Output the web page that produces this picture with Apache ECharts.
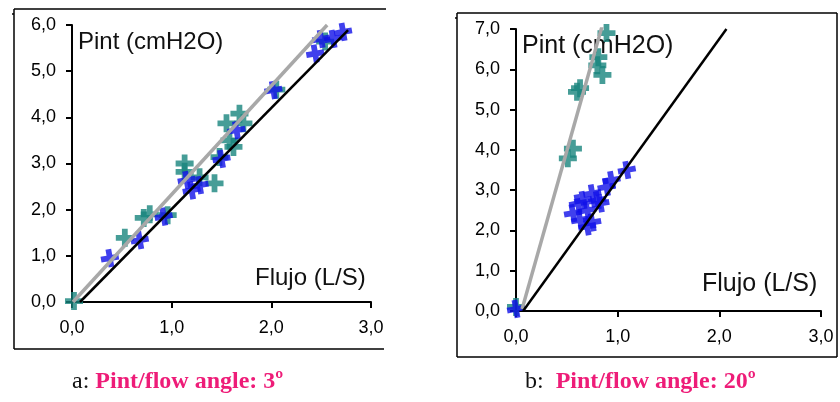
<!DOCTYPE html>
<html><head><meta charset="utf-8">
<script src="https://cdn.jsdelivr.net/npm/echarts@6/dist/echarts.min.js"></script>
<style>html,body{margin:0;padding:0;background:#fff}#c{width:840px;height:402px}</style>
</head><body><div id="c"></div>
<script>
// Panel a data (Flujo L/S, Pint cmH2O)
var tealA = [[0.02,0.02],[0.53,1.39],[0.72,1.82],[0.78,1.9],[0.96,1.88],[1.13,3.0],[1.13,2.82],[1.28,2.7],[1.43,2.57],[1.48,3.14],[1.58,3.5],[1.62,3.36],[1.55,3.87],[1.68,4.08],[1.72,3.87],[2.05,4.6],[2.54,5.64]];
var blueA = [[0.38,0.95],[0.68,1.34],[0.92,1.85],[1.15,2.64],[1.2,2.42],[1.28,2.53],[1.5,3.1],[1.65,3.72],[2.02,4.59],[2.44,5.38],[2.5,5.7],[2.62,5.7],[2.72,5.85]];
var grayLineA = [[0.01,0],[2.56,6.0]];
var blackLineA = [[0.08,0],[2.77,5.89]];
// Panel b data
var tealB = [[0.0,0.1],[0.51,3.79],[0.56,4.03],[0.6,5.44],[0.63,5.53],[0.8,6.1],[0.81,6.3],[0.85,5.86],[0.89,6.9]];
var blueB = [[0.0,0.05],[0.56,2.43],[0.61,2.67],[0.63,2.26],[0.66,2.75],[0.7,2.5],[0.7,2.1],[0.75,2.2],[0.75,2.92],[0.8,2.75],[0.83,2.67],[0.89,3.08],[0.94,3.25],[1.09,3.5]];
var grayLineB = [[0.06,0.05],[0.85,7.1]];
var blackLineB = [[0.07,0],[2.07,7.0]];
var xTicks = [0,1,2,3];
var captionA = ['a: ', 'Pint/flow angle: 3º'];
var captionB = ['b:  ', 'Pint/flow angle: 20º'];
var yTitle = 'Pint (cmH2O)', xTitle = 'Flujo (L/S)';

var plus = 'path://M3.4,0h3.2v3.4h3.4v3.2h-3.4v3.4h-3.2v-3.4h-3.4v-3.2h3.4z';
var fmt = function(v){ return v.toFixed(1).replace('.', ','); };
var TEAL = '#18857d', BLUE = '#1010e8', GRAY = '#a8a8a8';
function xAx(i){ return {gridIndex:i,type:'value',min:0,max:3,interval:1,
  axisLine:{lineStyle:{color:'#000',width:2}},axisTick:{length:6,lineStyle:{color:'#000',width:2}},
  splitLine:{show:false},axisLabel:{formatter:fmt,color:'#000',fontSize:18,fontFamily:'Liberation Sans',margin:17}}; }
function yAx(i,max){ return {gridIndex:i,type:'value',min:0,max:max,interval:1,
  axisLine:{show:true,lineStyle:{color:'#000',width:2}},axisTick:{show:true,length:6,lineStyle:{color:'#000',width:2}},
  splitLine:{show:false},axisLabel:{formatter:fmt,color:'#000',fontSize:18,fontFamily:'Liberation Sans',margin:16}}; }
function sc(i,data,color,rot){ return {type:'scatter',xAxisIndex:i,yAxisIndex:i,data:data,symbol:plus,symbolSize:18,symbolRotate:rot,
  itemStyle:{color:color},z:3,silent:true}; }
function ln(i,data,color,w){ return {type:'line',xAxisIndex:i,yAxisIndex:i,data:data,symbol:'none',
  lineStyle:{color:color,width:w},z:4,silent:true}; }
function line(x1,y1,x2,y2){ return {type:'line',shape:{x1:x1,y1:y1,x2:x2,y2:y2},style:{stroke:'#000',lineWidth:1.5},z:0}; }
function txt(x,y,t,size){ return {type:'text',left:x,top:y,style:{text:t,fill:'#111',font:size+'px "Liberation Sans"'},z:0}; }
function cap(x,y,parts){ return {type:'text',left:x,top:y,style:{rich:{a:{fill:'#111',font:'24px "Liberation Serif"'},b:{fill:'#ee1c78',font:'bold 24px "Liberation Serif"'}},
  text:'{a|'+parts[0]+'}{b|'+parts[1]+'}'},z:0}; }

var chart = echarts.init(document.getElementById('c'));
chart.setOption({
  animation:false,
  backgroundColor:'#fff',
  grid:[{left:72,top:25,width:299,height:277},{left:516,top:29,width:305,height:282}],
  xAxis:[xAx(0),xAx(1)],
  yAxis:[yAx(0,6),yAx(1,7)],
  series:[sc(0,tealA,TEAL,0),sc(0,blueA,BLUE,10),ln(0,grayLineA,GRAY,3.5),ln(0,blackLineA,'#000',2.5),
          sc(1,tealB,TEAL,0),sc(1,blueB,BLUE,10),ln(1,grayLineB,GRAY,3.5),ln(1,blackLineB,'#000',2.5)],
  graphic:[
    line(14,9,386,9),line(14,9,14,349),line(14,349,384,349),line(12,14,14,14),
    line(457,13,837,13),line(457,13,457,357),line(457,357,837,357),line(837,13,837,357),line(455,18,457,18),
    txt(78,30,yTitle,24),txt(255,266,xTitle,24),
    txt(522,34,yTitle,25),txt(702,272,xTitle,25),
    cap(72,370,captionA),cap(525,370,captionB)
  ]
});
</script></body></html>
